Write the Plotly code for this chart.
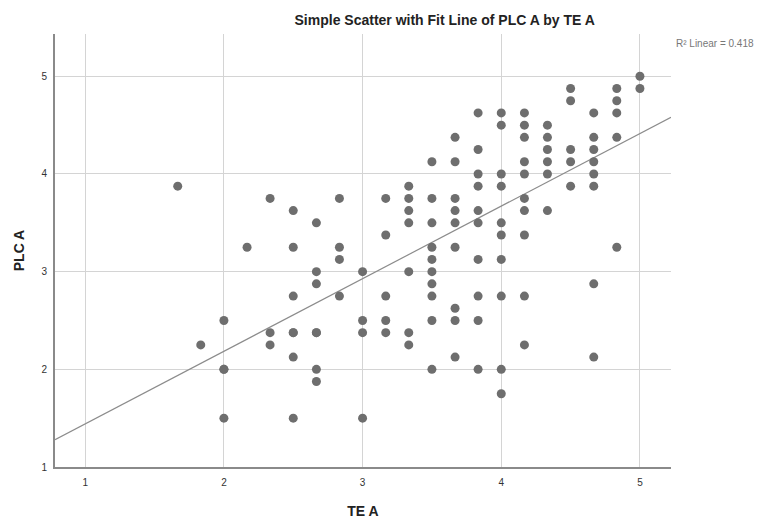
import numpy as np
import plotly.graph_objects as go

# TE A scores (x) and PLC A scores (y), one entry per respondent
te_a = [
    1.667, 1.833,
    2.0, 2.0, 2.0, 2.0,
    2.167,
    2.333, 2.333, 2.333,
    2.5, 2.5, 2.5, 2.5, 2.5, 2.5, 2.5,
    2.667, 2.667, 2.667, 2.667, 2.667, 2.667, 2.667,
    2.833, 2.833, 2.833, 2.833,
    3.0, 3.0, 3.0, 3.0,
    3.167, 3.167, 3.167, 3.167, 3.167,
    3.333, 3.333, 3.333, 3.333, 3.333, 3.333, 3.333,
    3.5, 3.5, 3.5, 3.5, 3.5, 3.5, 3.5, 3.5, 3.5, 3.5,
    3.667, 3.667, 3.667, 3.667, 3.667, 3.667, 3.667, 3.667, 3.667,
    3.833, 3.833, 3.833, 3.833, 3.833, 3.833, 3.833, 3.833, 3.833, 3.833,
    4.0, 4.0, 4.0, 4.0, 4.0, 4.0, 4.0, 4.0, 4.0, 4.0,
    4.167, 4.167, 4.167, 4.167, 4.167, 4.167, 4.167, 4.167, 4.167, 4.167,
    4.333, 4.333, 4.333, 4.333, 4.333, 4.333,
    4.5, 4.5, 4.5, 4.5, 4.5,
    4.667, 4.667, 4.667, 4.667, 4.667, 4.667, 4.667, 4.667,
    4.833, 4.833, 4.833, 4.833, 4.833,
    5.0, 5.0,
]
plc_a = [
    3.875, 2.25,
    2.5, 2.0, 1.5, 2.0,
    3.25,
    3.75, 2.375, 2.25,
    3.625, 3.25, 2.75, 2.375, 2.125, 1.5, 2.375,
    3.5, 3.0, 2.875, 2.375, 2.0, 1.875, 2.375,
    3.75, 3.25, 3.125, 2.75,
    3.0, 2.5, 2.375, 1.5,
    3.75, 3.375, 2.75, 2.5, 2.375,
    3.875, 3.75, 3.625, 3.5, 3.0, 2.375, 2.25,
    4.125, 3.75, 3.5, 3.25, 3.125, 3.0, 2.875, 2.75, 2.5, 2.0,
    4.375, 4.125, 3.75, 3.625, 3.5, 3.25, 2.625, 2.5, 2.125,
    4.625, 4.25, 4.0, 3.875, 3.625, 3.5, 3.125, 2.75, 2.5, 2.0,
    4.625, 4.5, 4.0, 3.875, 3.5, 3.375, 3.125, 2.75, 2.0, 1.75,
    4.625, 4.5, 4.375, 4.125, 4.0, 3.75, 3.625, 3.375, 2.75, 2.25,
    4.5, 4.375, 4.25, 4.125, 4.0, 3.625,
    4.875, 4.75, 4.25, 4.125, 3.875,
    4.625, 4.375, 4.25, 4.125, 4.0, 3.875, 2.875, 2.125,
    4.875, 4.75, 4.625, 4.375, 3.25,
    5.0, 4.875,
]

x_ticks = [1, 2, 3, 4, 5]
y_ticks = [1, 2, 3, 4, 5]
x_range = [0.782, 5.224]
y_range = [1.0, 5.433]

# linear fit of PLC A on TE A (full sample, overlapping cases included)
fit_intercept = 0.699
fit_slope = 0.743
r2_text = "R² Linear = 0.418"

fit_x = np.array(x_range)
fit_y = fit_intercept + fit_slope * fit_x

fig = go.Figure()
fig.add_trace(go.Scatter(
    x=fit_x, y=fit_y, mode="lines",
    line=dict(color="#8c8c8c", width=1.2),
    hoverinfo="skip", showlegend=False,
))
fig.add_trace(go.Scatter(
    x=te_a, y=plc_a, mode="markers",
    marker=dict(color="#6e6e6e", size=9, line=dict(width=0)),
    showlegend=False,
))

fig.update_layout(
    width=764, height=522,
    margin=dict(l=55, r=93, t=34, b=55),
    paper_bgcolor="white", plot_bgcolor="white",
    font=dict(family="Liberation Sans, Arial, sans-serif", color="#333333"),
    title=dict(
        text="<b>Simple Scatter with Fit Line of PLC A by TE A</b>",
        x=0.582, xanchor="center", y=0.962, yanchor="middle",
        font=dict(size=14, color="#222222"),
    ),
    xaxis=dict(
        range=x_range, tickvals=x_ticks, ticktext=[str(v) for v in x_ticks],
        showgrid=True, gridcolor="#d4d4d4", gridwidth=1,
        showline=True, linecolor="#8a8a8a", linewidth=2,
        zeroline=False, ticks="outside", ticklen=5, tickcolor="rgba(0,0,0,0)",
        tickfont=dict(size=10, color="#333333"), automargin=False,
        title=dict(text="<b>TE A</b>", font=dict(size=14, color="#222222"), standoff=19),
    ),
    yaxis=dict(
        range=y_range, tickvals=y_ticks, ticktext=[str(v) for v in y_ticks],
        showgrid=True, gridcolor="#d4d4d4", gridwidth=1,
        showline=True, linecolor="#8a8a8a", linewidth=2,
        zeroline=False, ticks="outside", ticklen=4, tickcolor="rgba(0,0,0,0)",
        tickfont=dict(size=10, color="#333333"), automargin=False,
        title=dict(text="<b>PLC A</b>", font=dict(size=14, color="#222222"), standoff=14),
    ),
    annotations=[dict(
        text=r2_text, xref="paper", yref="paper",
        x=1.005, y=0.977, xanchor="left", yanchor="middle",
        showarrow=False, font=dict(size=10, color="#777777"),
    )],
)

fig.write_html("out.html")
